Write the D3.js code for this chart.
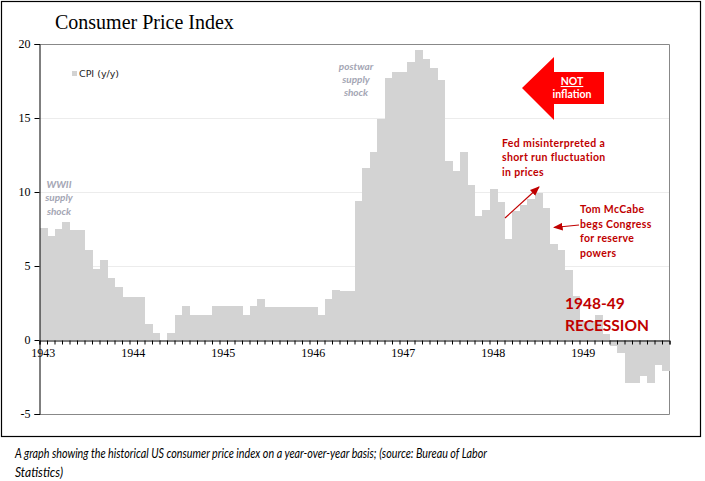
<!DOCTYPE html>
<html><head><meta charset="utf-8">
<script src="https://cdn.jsdelivr.net/npm/d3@7"></script>
<style>
html,body{margin:0;padding:0;background:#fff;}
svg{display:block;}
</style></head>
<body>
<svg id="chart" width="705" height="481"></svg>
<script>
// ---- data ----
const years = ["1943","1944","1945","1946","1947","1948","1949"];
const monthNames = ["Jan","Feb","Mar","Apr","May","Jun","Jul","Aug","Sep","Oct","Nov","Dec"];
const cpi1943 = [7.6, 7.0, 7.5, 8.0, 7.4, 7.4, 6.1, 4.8, 5.4, 4.2, 3.6, 2.9];
const cpi1944 = [2.9, 2.9, 1.1, 0.5, 0.0, 0.5, 1.7, 2.3, 1.7, 1.7, 1.7, 2.3];
const cpi1945 = [2.3, 2.3, 2.3, 1.7, 2.3, 2.8, 2.2, 2.2, 2.2, 2.2, 2.2, 2.2];
const cpi1946 = [2.2, 1.7, 2.8, 3.4, 3.3, 3.3, 9.4, 11.6, 12.7, 14.9, 17.7, 18.1];
const cpi1947 = [18.1, 18.8, 19.6, 19.0, 18.4, 17.6, 12.1, 11.4, 12.7, 10.5, 8.4, 8.8];
const cpi1948 = [10.2, 9.3, 6.8, 8.7, 9.1, 9.5, 9.9, 8.9, 6.5, 6.1, 4.7, 3.0];
const cpi1949 = [1.3, 1.3, 1.7, 0.4, -0.4, -0.9, -2.9, -2.9, -2.4, -2.9, -1.7, -2.1];
const yTicks = [-5, 0, 5, 10, 15, 20];
const seriesName = "CPI (y/y)";

const allYears = [cpi1943, cpi1944, cpi1945, cpi1946, cpi1947, cpi1948, cpi1949];
const data = [];
allYears.forEach((arr, yi) => arr.forEach((v, mi) => data.push({key: years[yi] + "-" + monthNames[mi], year: years[yi], m: mi, v: v})));

// ---- layout ----
const svg = d3.select("#chart");
const L = 39.5, R = 669.5, T = 44, B = 414;

// outer frame
svg.append("rect").attr("x", 1.5).attr("y", 1.5).attr("width", 699).attr("height", 435)
  .attr("fill", "#fff").attr("stroke", "#000").attr("stroke-width", 1.2);

const x = d3.scaleBand().domain(data.map(d => d.key)).range([L, R]).padding(0);
const y = d3.scaleLinear().domain([-5, 20]).range([B, T]);

// gridlines
svg.append("g").selectAll("line").data([5, 10, 15]).join("line")
  .attr("x1", L).attr("x2", R).attr("y1", d => Math.round(y(d)) + 0.5).attr("y2", d => Math.round(y(d)) + 0.5)
  .attr("stroke", "#ececec").attr("stroke-width", 1);

// plot border (top, right, bottom)
svg.append("path").attr("d", `M${L},${T}.5 H${R} V${B}.5 H${L}`)
  .attr("fill", "none").attr("stroke", "#888").attr("stroke-width", 1);

// bars
svg.append("g").attr("shape-rendering", "crispEdges").selectAll("rect").data(data).join("rect")
  .attr("x", d => x(d.key)).attr("width", x.bandwidth() + 0.6)
  .attr("y", d => y(Math.max(0, d.v))).attr("height", d => Math.abs(y(d.v) - y(0)))
  .attr("fill", "#d3d3d3");

// y axis
const yAxis = svg.append("g").attr("transform", `translate(${L},0)`)
  .call(d3.axisLeft(y).tickValues(yTicks).tickSize(5).tickPadding(4).tickFormat(d => String(d)));
yAxis.select(".domain").attr("stroke", "#000");
yAxis.selectAll("line").attr("stroke", "#000");
yAxis.selectAll("text").attr("font-family", "'Liberation Serif', serif").attr("font-size", 12).attr("fill", "#000");

// x axis (monthly tick marks at category boundaries)
const xt = d3.scaleLinear().domain([0, data.length]).range([L, R]);
const xAxis = svg.append("g").attr("transform", `translate(0,${Math.round(y(0)) + 0.5})`)
  .call(d3.axisBottom(xt).tickValues(d3.range(0, data.length + 1)).tickSize(4).tickFormat(""));
xAxis.select(".domain").attr("stroke", "#000");
xAxis.selectAll("line").attr("stroke", "#000");

// year labels centered on January category
svg.append("g").selectAll("text").data(years).join("text")
  .attr("x", d => x(d + "-Jan") + x.bandwidth() / 2)
  .attr("y", Math.round(y(0)) + 17)
  .attr("text-anchor", "middle")
  .attr("font-family", "'Liberation Serif', serif").attr("font-size", 12).attr("fill", "#000")
  .text(d => d);

// title
svg.append("text").attr("x", 55).attr("y", 29)
  .attr("font-family", "'Liberation Serif', serif").attr("font-size", 20).attr("fill", "#000")
  .text("Consumer Price Index");

// legend
svg.append("rect").attr("x", 72).attr("y", 71).attr("width", 5).attr("height", 5).attr("fill", "#d3d3d3");
svg.append("text").attr("x", 79).attr("y", 77)
  .attr("font-family", "'DejaVu Sans', sans-serif").attr("font-size", 9.5).attr("fill", "#222")
  .text(seriesName);

// annotation helper
function lines(arr, x0, y0, dy, opts) {
  const t = svg.append("text").attr("x", x0).attr("y", y0)
    .attr("font-family", opts.family || "Lato, sans-serif")
    .attr("font-size", opts.size).attr("font-weight", opts.weight || "bold")
    .attr("font-style", opts.style || "normal")
    .attr("fill", opts.fill).attr("text-anchor", opts.anchor || "start")
    .attr("letter-spacing", opts.ls || 0);
  arr.forEach((s, i) => t.append("tspan").attr("x", x0).attr("y", y0 + i * dy).text(s));
  return t;
}

const grayAnn = "#a4a6b4";
lines(["WWII", "supply", "shock"], 59, 188, 13.3, {size: 10, style: "italic", fill: grayAnn, anchor: "middle"});
lines(["postwar", "supply", "shock"], 356, 70, 13, {size: 10, style: "italic", fill: grayAnn, anchor: "middle"});

const red = "#c00000";
lines(["Fed misinterpreted a", "short run fluctuation", "in prices"], 502, 146.5, 14.7, {size: 10.5, fill: red, ls: 0.35});
lines(["Tom McCabe", "begs Congress", "for reserve", "powers"], 580, 213, 14.7, {size: 10.5, fill: red, ls: 0.35});
lines(["1948-49", "RECESSION"], 565, 309, 21.5, {size: 15.5, fill: red});

// arrow markers
const defs = svg.append("defs");
defs.append("marker").attr("id", "ah").attr("viewBox", "0 0 10 10").attr("refX", 9).attr("refY", 5)
  .attr("markerWidth", 8).attr("markerHeight", 8).attr("orient", "auto-start-reverse")
  .append("path").attr("d", "M0,1 L10,5 L0,9 Z").attr("fill", red);
svg.append("line").attr("x1", 505).attr("y1", 218).attr("x2", 539).attr("y2", 187)
  .attr("stroke", red).attr("stroke-width", 1.2).attr("marker-end", "url(#ah)");
svg.append("line").attr("x1", 579).attr("y1", 225).attr("x2", 554).attr("y2", 227.5)
  .attr("stroke", red).attr("stroke-width", 1.2).attr("marker-end", "url(#ah)");

// big red "NOT inflation" arrow
svg.append("path")
  .attr("d", "M522,88 L554,57 L554,72 L604,72 L604,104 L554,104 L554,120 Z")
  .attr("fill", "#ff0000");
svg.append("text").attr("x", 572).attr("y", 85).attr("text-anchor", "middle")
  .attr("font-family", "Lato, sans-serif").attr("font-weight", "bold").attr("font-size", 10.5)
  .attr("fill", "#fff").attr("text-decoration", "underline").text("NOT");
svg.append("text").attr("x", 572).attr("y", 98).attr("text-anchor", "middle")
  .attr("font-family", "Lato, sans-serif").attr("font-weight", "bold").attr("font-size", 10.5)
  .attr("fill", "#fff").text("inflation");

// caption
svg.append("text").attr("x", 15).attr("y", 458)
  .attr("font-family", "Lato, sans-serif").attr("font-style", "italic").attr("font-size", 14)
  .attr("fill", "#000").attr("textLength", 472).attr("lengthAdjust", "spacingAndGlyphs")
  .text("A graph showing the historical US consumer price index on a year-over-year basis; (source: Bureau of Labor");
svg.append("text").attr("x", 15).attr("y", 477)
  .attr("font-family", "Lato, sans-serif").attr("font-style", "italic").attr("font-size", 14)
  .attr("fill", "#000").attr("textLength", 48).attr("lengthAdjust", "spacingAndGlyphs")
  .text("Statistics)");
</script>
</body></html>
